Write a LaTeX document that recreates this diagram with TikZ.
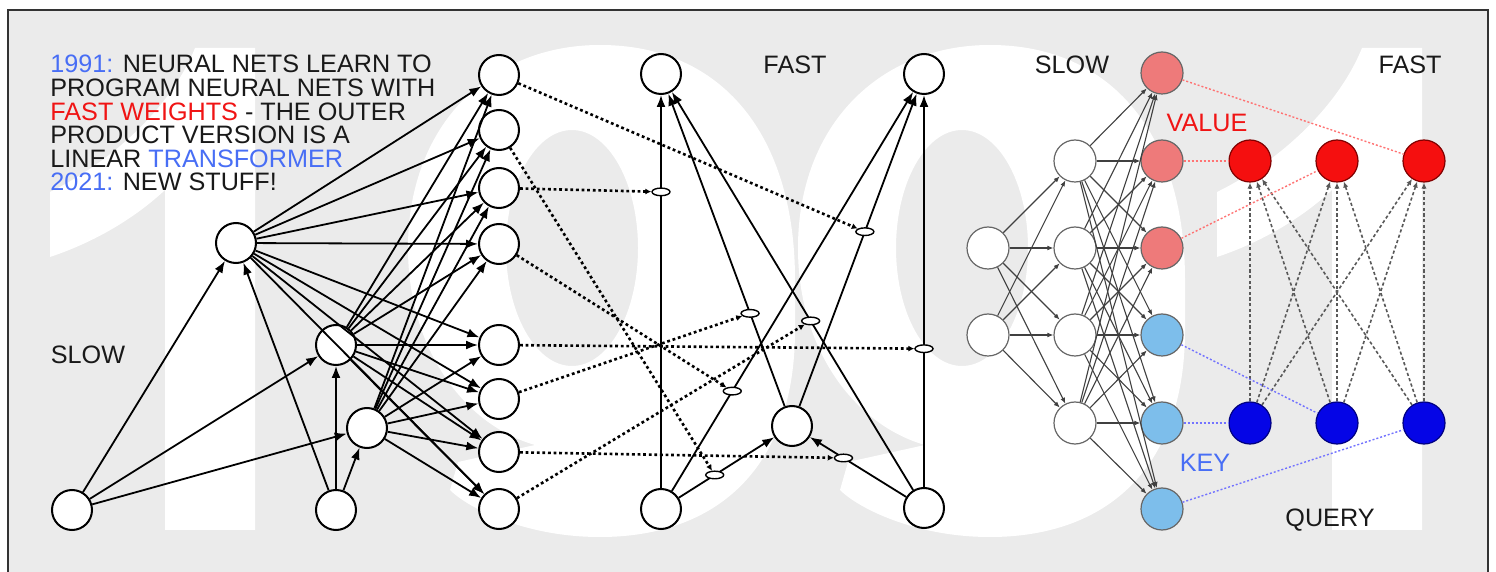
\documentclass[tikz,border=0pt]{standalone}
\usepackage{fontspec}
\setmainfont{Liberation Sans}
\usepackage{xcolor}
\usetikzlibrary{shapes.geometric,arrows.meta,calc}

\definecolor{bggray}{RGB}{235,235,235}
\definecolor{txtblue}{RGB}{72,110,245}
\definecolor{txtred}{RGB}{240,20,20}
\definecolor{valfill}{RGB}{238,122,122}
\definecolor{keyfill}{RGB}{125,190,235}
\definecolor{fastred}{RGB}{245,15,15}
\definecolor{fastblue}{RGB}{5,5,230}

\begin{document}
\begin{tikzpicture}[x=0.5pt, y=-0.5pt,
    neuron/.style={circle, draw=black, line width=1pt, fill=white, minimum size=20pt, inner sep=0pt},
    gate/.style={ellipse, draw=black, line width=0.7pt, fill=white, minimum width=9pt, minimum height=3.8pt, inner sep=0pt},
    unit/.style={circle, draw=black!60, line width=0.6pt, fill=white, minimum size=21pt, inner sep=0pt},
    arr/.style={-{Latex[length=6pt, width=4.5pt]}, line width=0.9pt},
    fw/.style={-{Latex[length=3pt, width=3pt]}, line width=1.3pt, dash pattern=on 1.4pt off 1.4pt},
    tarr/.style={-{Latex[length=3pt, width=2.4pt]}, line width=0.55pt, draw=black!75},
    farr/.style={-{Latex[length=3pt, width=2.6pt]}, line width=0.8pt, draw=black!65, dash pattern=on 1.6pt off 1.2pt},
    lbl/.style={font=\fontsize{12.6pt}{12.6pt}\selectfont, text=black!90, inner sep=0pt},
  ]

    \useasboundingbox (0,0) rectangle (1496,572);
    \clip (0,0) rectangle (1496,572);

    % --- Frame and background year ---
    \draw[line width=1pt, draw=black!80, fill=bggray] (8,10) rectangle (1488,600);
    \begin{scope}
      \clip (9,11) rectangle (1487,600);
      % the two ones
      \foreach \dx in {0,1167}
        \fill[white, shift={(\dx,0)}] (255,530) -- (255,48) -- (195,48)
          .. controls (172,105) and (115,160) .. (50,192) -- (50,257)
          .. controls (95,242) and (135,218) .. (165,190) -- (165,530) -- cycle;
      % the two nines
      \foreach \dx in {0,390}
        \fill[white, even odd rule, shift={(\dx,0)}] (600,45)
          .. controls (722,45) and (795,135) .. (795,280) -- (795,330)
          .. controls (795,470) and (715,537) .. (600,537)
          .. controls (525,537) and (468,508) .. (450,490) -- (458,462) -- (535,445)
          .. controls (465,425) and (408,350) .. (408,248)
          .. controls (408,125) and (490,45) .. (600,45) -- cycle
          (572,248) ellipse [x radius=66, y radius=118];
    \end{scope}

    % --- Intro text ---
    \node[anchor=north west, align=left, inner sep=0pt, text=black!90, font=\fontsize{12.6pt}{11.8pt}\selectfont] (intro) at (50,55)
      {\textcolor{txtblue}{1991:} NEURAL NETS LEARN TO\\
       PROGRAM NEURAL NETS WITH\\
       \textcolor{txtred}{FAST WEIGHTS} - THE OUTER\\
       PRODUCT VERSION IS A\\
       LINEAR \textcolor{txtblue}{TRANSFORMER}\\
       \textcolor{txtblue}{2021:} NEW STUFF!};

    % --- Slow net (left) ---
    \node[lbl] (slowL) at (88,355) {SLOW};
    \node[neuron] (a1) at (72,510) {};
    \node[neuron] (a2) at (336,510) {};
    \node[neuron] (b1) at (236,243) {};
    \node[neuron] (b2) at (336,345) {};
    \node[neuron] (b3) at (367,428) {};
    \foreach \i/\y in {1/75, 2/130, 3/188, 4/244, 5/345, 6/399, 7/452, 8/509}
      \node[neuron] (c\i) at (499,\y) {};

    \foreach \s in {a1,a2}
      \foreach \t in {b1,b2,b3}
        \draw[arr] (\s) -- (\t);
    \foreach \s in {b1,b2,b3}
      \foreach \t in {1,...,8}
        \draw[arr] (\s) -- (c\t);

    % --- Fast net (middle) ---
    \node[lbl] (fastL) at (795,65) {FAST};
    \node[neuron] (d1) at (661,74) {};
    \node[neuron] (d2) at (924,74) {};
    \node[neuron] (h) at (792,426) {};
    \node[neuron] (e1) at (661,509) {};
    \node[neuron] (e2) at (924,508) {};

    \draw[arr] (e1) -- (d1);
    \draw[arr] (e1) -- (d2);
    \draw[arr] (e1) -- (h);
    \draw[arr] (e2) -- (d1);
    \draw[arr] (e2) -- (d2);
    \draw[arr] (e2) -- (h);
    \draw[arr] (h) -- (d1);
    \draw[arr] (h) -- (d2);

    % Gates on the fast connections
    \node[gate] (g1) at ($(h)!0.552!(d2)$) {};
    \node[gate] (g2) at ($(e1)!0.41!(h)$) {};
    \node[gate] (g3) at ($(e1)!0.729!(d1)$) {};
    \node[gate] (g4) at ($(e1)!0.271!(d2)$) {};
    \node[gate] (g5) at ($(e2)!0.367!(d2)$) {};
    \node[gate] (g6) at ($(h)!0.32!(d1)$) {};
    \node[gate] (g7) at ($(e2)!0.61!(h)$) {};
    \node[gate] (g8) at ($(e2)!0.431!(d1)$) {};

    % Slow outputs set the fast weights
    \foreach \i in {1,...,8}
      \draw[fw] (c\i) -- (g\i);

    % --- Linear transformer (right) ---
    \node[lbl] (slowR) at (1072,65) {SLOW};
    \node[lbl] (fastR) at (1410,65) {FAST};
    \node[lbl, text=txtred] (value) at (1207,123) {VALUE};
    \node[lbl, text=txtblue] (key) at (1205,463) {KEY};
    \node[lbl] (query) at (1330,520) {QUERY};

    \node[unit] (r1) at (988,248) {};
    \node[unit] (r2) at (988,335) {};
    \foreach \i/\y in {1/161, 2/248, 3/335, 4/423}
      \node[unit] (s\i) at (1075,\y) {};
    \foreach \i/\y in {1/73, 2/161, 3/248}
      \node[unit, fill=valfill] (v\i) at (1162,\y) {};
    \foreach \i/\y in {1/335, 2/423, 3/509}
      \node[unit, fill=keyfill] (k\i) at (1162,\y) {};
    \foreach \i/\x in {1/1250, 2/1337, 3/1424} {
      \node[unit, fill=fastred, draw=red!50!black] (f\i) at (\x,161) {};
      \node[unit, fill=fastblue, draw=blue!50!black] (q\i) at (\x,423) {};
    }

    \foreach \s in {r1,r2}
      \foreach \t in {1,...,4}
        \draw[tarr] (\s) -- (s\t);
    \foreach \s in {1,...,4}
      \foreach \t in {v1,v2,v3,k1,k2,k3}
        \draw[tarr] (s\s) -- (\t);

    % Fast weights from query to value
    \foreach \s in {1,2,3}
      \foreach \t in {1,2,3}
        \draw[farr] (q\s) -- (f\t);

    % Outer product pairing
    \draw[red!55, line width=0.7pt, dash pattern=on 1pt off 1pt] (v1) -- (f3);
    \draw[red!55, line width=0.7pt, dash pattern=on 1pt off 1pt] (v2) -- (f1);
    \draw[red!55, line width=0.7pt, dash pattern=on 1pt off 1pt] (v3) -- (f2);
    \draw[blue!55, line width=0.7pt, dash pattern=on 1pt off 1pt] (k1) -- (q2);
    \draw[blue!55, line width=0.7pt, dash pattern=on 1pt off 1pt] (k2) -- (q1);
    \draw[blue!55, line width=0.7pt, dash pattern=on 1pt off 1pt] (k3) -- (q3);

  \end{tikzpicture}
\end{document}
